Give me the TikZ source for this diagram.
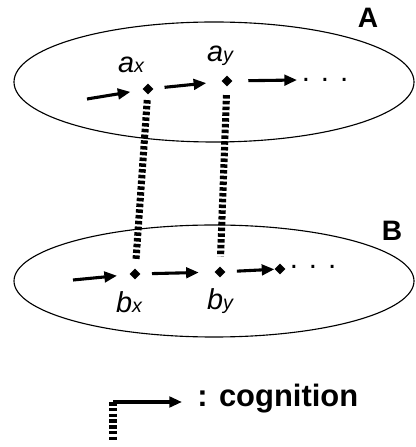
\documentclass[tikz,border=0pt]{standalone}
\usepackage{fontspec}
\setmainfont{Liberation Sans}
\usetikzlibrary{positioning, shapes.geometric, arrows.meta}
\newcommand{\elem}[2]{{\itshape #1{\fontsize{14}{14}\selectfont #2}}}

\begin{document}
\begin{tikzpicture}[
  dot/.style={diamond, fill=black, inner sep=0pt, minimum size=0.28cm},
  cog/.style={-{Triangle[length=9pt, width=7.5pt]}, line width=2.2pt},
  link/.style={line width=5pt, dash pattern=on 2.5pt off 1.6pt},
  setname/.style={font=\fontsize{20}{20}\selectfont\bfseries},
  elab/.style={font=\fontsize{20.5}{20.5}\selectfont, anchor=base, inner sep=0pt},
  more/.style={font=\fontsize{21}{21}\selectfont, anchor=base, inner sep=0pt},
]
\useasboundingbox (0,0) rectangle (10.4,11.175);

% the two sets
\draw[line width=0.8pt] (5.35,9.125) ellipse (5.0cm and 1.5cm);
\draw[line width=0.8pt] (5.35,4.15) ellipse (5.0cm and 1.4cm);
\node[setname] (setA) at (9.2,10.725) {A};
\node[setname] (setB) at (9.8,5.4) {B};

% elements of A
\node[dot] (ax) at (3.7,8.95) {};
\node[dot] (ay) at (5.675,9.15) {};
\node[elab] (axlab) at (3.275,9.35) {\elem{a}{x}};
\node[elab] (aylab) at (5.5,9.625) {\elem{a}{y}};
\coordinate (a0) at (2.175,8.7);
\coordinate (an) at (7.425,9.175);
\draw[cog, shorten >=9pt] (a0) -- (ax);
\draw[cog, shorten <=8pt, shorten >=11pt] (ax) -- (ay);
\draw[cog, shorten <=11pt] (ay) -- (an);
\node[more] (adots) at (8.125,9.14) {. . .};

% elements of B
\node[dot] (bx) at (3.375,4.325) {};
\node[dot] (by) at (5.5,4.375) {};
\node[dot] (bz) at (7.0,4.45) {};
\node[elab] (bxlab) at (3.225,3.35) {\elem{b}{x}};
\node[elab] (bylab) at (5.5,3.425) {\elem{b}{y}};
\coordinate (b0) at (1.825,4.175);
\draw[cog, shorten >=9pt] (b0) -- (bx);
\draw[cog, shorten <=8pt, shorten >=11pt] (bx) -- (by);
\draw[cog, shorten <=8pt] (by) -- (bz);
\node[more] (bdots) at (7.825,4.4625) {. . .};

% links between the sets
\draw[link, shorten <=4pt, shorten >=6pt] (ax) -- (bx);
\draw[link, shorten <=6pt, shorten >=7pt] (ay) -- (by);

% legend
\coordinate (lg) at (2.825,1.125);
\coordinate (lgend) at (2.825,0.125);
\coordinate (lgtip) at (4.55,1.125);
\draw[link] (lg) -- (lgend);
\draw[cog] (lg) -- (lgtip);
\node[font=\fontsize{22}{22}\selectfont\bfseries, anchor=base west, inner sep=0pt] (legend) at (4.925,1.0) {: cognition};
\end{tikzpicture}
\end{document}
